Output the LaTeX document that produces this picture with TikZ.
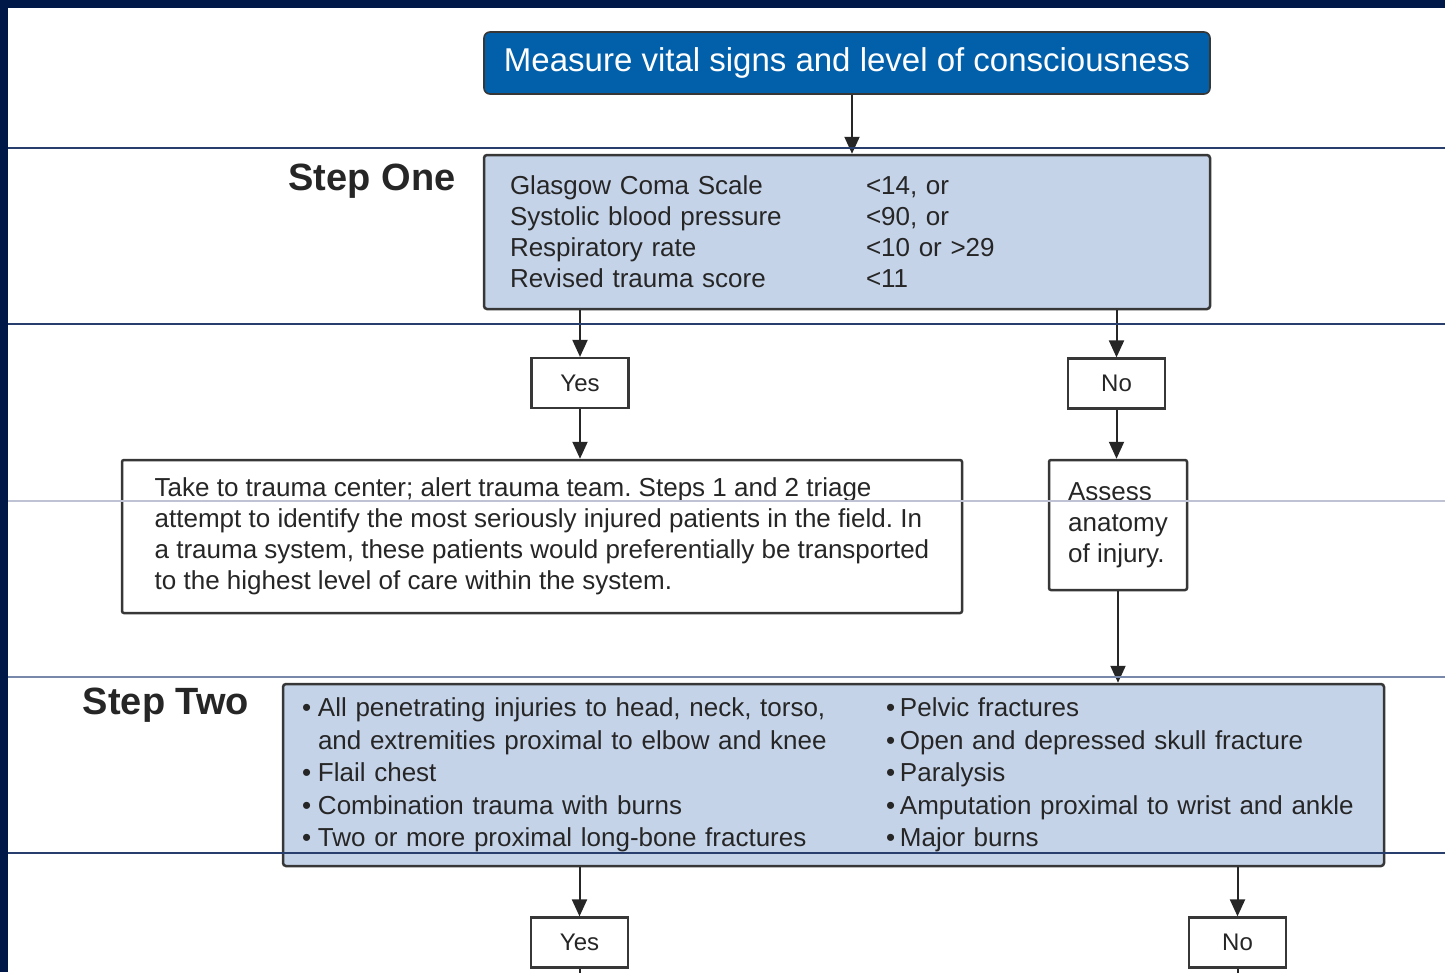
\documentclass[tikz,border=0pt]{standalone}
\usepackage{fontspec}
\setmainfont{Liberation Sans}
\usetikzlibrary{arrows.meta, positioning}
\definecolor{SlideNavy}{RGB}{0,24,72}
\definecolor{RuleNavy}{RGB}{40,62,108}
\definecolor{RuleMid}{RGB}{120,136,170}
\definecolor{RuleGray}{RGB}{190,194,210}
\definecolor{TitleBlue}{RGB}{2,96,170}
\definecolor{CritFill}{RGB}{197,211,233}
\definecolor{EdgeGray}{RGB}{55,55,55}
\newcommand{\injitem}[2]{\makebox[#1][l]{\textbullet}#2}
\frenchspacing

\begin{document}
\begin{tikzpicture}[x=1pt,y=-1pt,
        titlebox/.style={draw=EdgeGray,fill=TitleBlue,text=white,rounded corners=6pt,
                         line width=1.6pt,font=\fontsize{33}{36}\selectfont,
                         minimum width=726pt,minimum height=62pt},
        critbox/.style={draw=EdgeGray,fill=CritFill,rounded corners=3pt,line width=2.5pt,
                        font=\fontsize{26}{31}\selectfont,align=left,text=black!85},
        plainbox/.style={draw=EdgeGray,fill=white,rounded corners=2pt,line width=2.5pt,
                         font=\fontsize{26}{31}\selectfont,align=left,text=black!85},
        answer/.style={draw=EdgeGray,fill=white,line width=2.2pt,text=black!85,
                       font=\fontsize{24}{28}\selectfont,minimum width=97pt,minimum height=50pt},
        steplabel/.style={font=\fontsize{38}{40}\selectfont\bfseries,text=black!85},
        arr/.style={-{Triangle[width=15pt,length=17pt]},line width=2pt,black!85},
        guide/.style={line width=1.3pt}
      ]
        \useasboundingbox (0,0) rectangle (1445,972);
        % slide frame
        \fill[SlideNavy] (0,0) rectangle (1445,8);
        \fill[SlideNavy] (0,0) rectangle (8,972);

        \node[titlebox] (vital) at (847,63) {\raisebox{-2pt}{Measure vital signs and level of consciousness}};

        \node[steplabel] (labone) at (372,181) {Step One};
        \node[critbox,minimum width=726pt,minimum height=154pt,text width=674pt,
              inner xsep=26pt] (stepone) at (847,232) {%
          \makebox[356pt][l]{Glasgow Coma Scale}<14, or\\
          \makebox[356pt][l]{Systolic blood pressure}<90, or\\
          \makebox[356pt][l]{Respiratory rate}<10 or >29\\
          \makebox[356pt][l]{Revised trauma score}<11};

        \node[answer] (yesone) at (580,383) {Yes};
        \node[answer] (noone)  at (1116.5,383.5) {No};

        \node[plainbox,minimum width=840pt,minimum height=153pt] (take) at (542,536.5) {%
          Take to trauma center; alert trauma team. Steps 1 and 2 triage\\
          attempt to identify the most seriously injured patients in the field. In\\
          a trauma system, these patients would preferentially be transported\\
          to the highest level of care within the system.};
        \node[plainbox,minimum width=138pt,minimum height=130pt] (assess) at (1118,525)
          {Assess\\anatomy\\of injury.};

        \node[steplabel] (labtwo) at (166,705) {Step Two};
        \node[critbox,minimum width=1101pt,minimum height=182pt,text width=1063pt,
              inner xsep=19pt,font=\fontsize{26}{32.5}\selectfont] (steptwo) at (833.5,775) {%
          \parbox[t]{584pt}{%
            \injitem{16pt}{All penetrating injuries to head, neck, torso,}\\
            \hspace*{16pt}and extremities proximal to elbow and knee\\
            \injitem{16pt}{Flail chest}\\
            \injitem{16pt}{Combination trauma with burns}\\
            \injitem{16pt}{Two or more proximal long-bone fractures}}%
          \parbox[t]{479pt}{%
            \injitem{14pt}{Pelvic fractures}\\
            \injitem{14pt}{Open and depressed skull fracture}\\
            \injitem{14pt}{Paralysis}\\
            \injitem{14pt}{Amputation proximal to wrist and ankle}\\
            \injitem{14pt}{Major burns}}};

        \node[answer] (yestwo) at (579.5,942.5) {Yes};
        \node[answer] (notwo)  at (1237.5,942.5) {No};
        \coordinate (yesnext) at (579.5,1000);
        \coordinate (nonext)  at (1237.5,1000);

        % connectors
        \draw[arr] ([xshift=5pt]vital.south) -- ([xshift=5pt]stepone.north);
        \draw[arr] (stepone.south -| yesone.north) -- (yesone.north);
        \draw[arr] (stepone.south -| noone.north) -- (noone.north);
        \draw[arr] (yesone.south) -- (yesone.south |- take.north);
        \draw[arr] (noone.south) -- (noone.south |- assess.north);
        \draw[arr] (assess.south) -- (assess.south |- steptwo.north);
        \draw[arr] (steptwo.south -| yestwo.north) -- (yestwo.north);
        \draw[arr] (steptwo.south -| notwo.north) -- (notwo.north);
        \draw[line width=2pt,black!85] (yestwo.south) -- (yesnext);
        \draw[line width=2pt,black!85] (notwo.south) -- (nonext);

        % slide guide rules
        \foreach \ry/\rc in {148/RuleNavy,324/RuleNavy,501/RuleGray,677/RuleMid,853/RuleNavy}
          \draw[guide,\rc] (8,\ry) -- (1445,\ry);
      \end{tikzpicture}
\end{document}
